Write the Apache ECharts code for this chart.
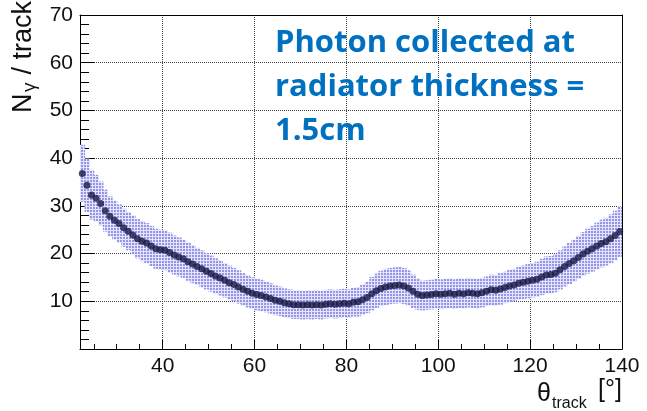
<!DOCTYPE html>
<html>
<head>
<meta charset="utf-8">
<script src="https://cdn.jsdelivr.net/npm/echarts@6/dist/echarts.min.js"></script>
<style>
html,body{margin:0;padding:0;background:#fff;}
#chart{width:647px;height:411px;}
</style>
</head>
<body>
<div id="chart"></div>
<script>
// theta_track bin centres (degrees)
const theta = [
  22.5, 23.5, 24.5, 25.5, 26.5, 27.5, 28.5, 29.5,
  30.5, 31.5, 32.5, 33.5, 34.5, 35.5, 36.5, 37.5, 38.5, 39.5,
  40.5, 41.5, 42.5, 43.5, 44.5, 45.5, 46.5, 47.5, 48.5, 49.5,
  50.5, 51.5, 52.5, 53.5, 54.5, 55.5, 56.5, 57.5, 58.5, 59.5,
  60.5, 61.5, 62.5, 63.5, 64.5, 65.5, 66.5, 67.5, 68.5, 69.5,
  70.5, 71.5, 72.5, 73.5, 74.5, 75.5, 76.5, 77.5, 78.5, 79.5,
  80.5, 81.5, 82.5, 83.5, 84.5, 85.5, 86.5, 87.5, 88.5, 89.5,
  90.5, 91.5, 92.5, 93.5, 94.5, 95.5, 96.5, 97.5, 98.5, 99.5,
  100.5, 101.5, 102.5, 103.5, 104.5, 105.5, 106.5, 107.5, 108.5, 109.5,
  110.5, 111.5, 112.5, 113.5, 114.5, 115.5, 116.5, 117.5, 118.5, 119.5,
  120.5, 121.5, 122.5, 123.5, 124.5, 125.5, 126.5, 127.5, 128.5, 129.5,
  130.5, 131.5, 132.5, 133.5, 134.5, 135.5, 136.5, 137.5, 138.5, 139.5
];
// N_gamma per track
const nGamma = [
  36.8, 34.3, 32.3, 31.6, 30.5, 29.0, 27.8, 27.0,
  26.3, 25.4, 24.7, 23.9, 23.1, 22.6, 22.2, 21.6, 21.0, 20.8,
  20.7, 20.2, 19.7, 19.3, 18.9, 18.3, 17.8, 17.3, 16.8, 16.3,
  15.8, 15.3, 14.9, 14.4, 13.9, 13.5, 13.0, 12.5, 12.1, 11.7,
  11.4, 11.2, 10.9, 10.6, 10.2, 10.0, 9.7, 9.5, 9.3, 9.3,
  9.2, 9.3, 9.2, 9.3, 9.2, 9.4, 9.5, 9.4, 9.5, 9.6,
  9.5, 9.8, 9.9, 10.3, 10.8, 11.6, 12.2, 12.7, 13.0, 13.2,
  13.3, 13.4, 13.2, 12.8, 12.1, 11.5, 11.2, 11.3, 11.4, 11.6,
  11.5, 11.6, 11.7, 11.5, 11.7, 11.6, 11.8, 11.7, 11.6, 11.8,
  12.1, 12.4, 12.3, 12.6, 12.9, 13.2, 13.4, 13.8, 14.0, 14.2,
  14.4, 14.6, 15.1, 15.5, 15.6, 15.9, 16.6, 17.3, 17.9, 18.5,
  19.2, 19.9, 20.5, 21.0, 21.6, 22.1, 22.5, 23.1, 23.8, 24.6
];
// half-width of the uncertainty band
const nGammaErr = [
  6.0, 5.6, 5.2, 4.9, 4.6, 4.4, 4.2, 4.1,
  4.0, 4.0, 4.0, 4.1, 4.1, 4.2, 4.2, 4.2, 4.2, 4.2,
  4.2, 4.2, 4.1, 4.1, 4.0, 4.0, 4.0, 3.9, 3.9, 3.8,
  3.8, 3.7, 3.7, 3.6, 3.6, 3.5, 3.5, 3.4, 3.4, 3.3,
  3.3, 3.3, 3.2, 3.2, 3.1, 3.1, 3.0, 3.0, 3.0, 3.0,
  3.0, 3.0, 3.0, 3.0, 3.0, 3.0, 3.0, 3.0, 3.0, 3.0,
  3.0, 3.0, 3.1, 3.2, 3.3, 3.5, 3.6, 3.7, 3.8, 3.8,
  3.8, 3.8, 3.8, 3.7, 3.5, 3.3, 3.1, 3.1, 3.1, 3.1,
  3.1, 3.1, 3.1, 3.1, 3.1, 3.1, 3.1, 3.1, 3.1, 3.1,
  3.1, 3.2, 3.2, 3.3, 3.3, 3.4, 3.4, 3.5, 3.5, 3.6,
  3.6, 3.7, 3.8, 3.9, 3.9, 4.0, 4.1, 4.2, 4.3, 4.4,
  4.5, 4.6, 4.7, 4.8, 4.9, 5.0, 5.0, 5.1, 5.2, 5.3
];
const binWidth = 1;
const yTickLabels = ['10', '20', '30', '40', '50', '60', '70'];
const xTickLabels = ['40', '60', '80', '100', '120', '140'];
const annotation = ['Photon collected at', 'radiator thickness =', '1.5cm'];

// dotted fill pattern for the band
const pat = document.createElement('canvas');
pat.width = 3; pat.height = 3;
const pctx = pat.getContext('2d');
pctx.fillStyle = 'rgba(228,228,250,1)';
pctx.fillRect(0, 0, 3, 3);
pctx.fillStyle = '#9494ea';
pctx.fillRect(0, 0, 2, 2);

const bandData = theta.map((t, i) => [t, nGamma[i] - nGammaErr[i], nGamma[i] + nGammaErr[i]]);
const pts = theta.map((t, i) => [t, nGamma[i]]);

const FONT = 'Liberation Sans, Arial, Helvetica, sans-serif';
const AX = '#000';
const frameAxis = {
  type: 'value', axisLine: {show: true, onZero: false, lineStyle: {color: AX, width: 1}},
  axisTick: {show: false}, axisLabel: {show: false}, splitLine: {show: false}
};
const chart = echarts.init(document.getElementById('chart'), null, {renderer: 'canvas'});
chart.setOption({
  animation: false,
  backgroundColor: '#fff',
  grid: {left: 80, right: 25, top: 15, bottom: 62},
  xAxis: [{
    type: 'value', min: 22, max: 140,
    axisLine: {show: true, onZero: false, lineStyle: {color: AX, width: 1}},
    axisTick: {show: true, inside: true, length: 9, lineStyle: {color: AX, width: 1}},
    minorTick: {show: true, splitNumber: 4, length: 5, lineStyle: {color: AX, width: 1}},
    splitLine: {show: true, lineStyle: {color: '#444', type: 'dotted', width: 1}},
    axisLabel: {showMinLabel: false, color: '#111', fontFamily: FONT, fontSize: 21, margin: 7,
      formatter: v => xTickLabels.indexOf(String(v)) >= 0 ? String(v) : ''}
  }, Object.assign({}, frameAxis, {position: 'top', min: 22, max: 140})],
  yAxis: [{
    type: 'value', min: 0, max: 70, interval: 10,
    axisLine: {show: true, onZero: false, lineStyle: {color: AX, width: 1}},
    axisTick: {show: true, inside: true, length: 15, lineStyle: {color: AX, width: 1}},
    minorTick: {show: true, splitNumber: 5, length: 9, lineStyle: {color: AX, width: 1}},
    splitLine: {show: true, lineStyle: {color: '#444', type: 'dotted', width: 1}},
    axisLabel: {showMinLabel: false, color: '#111', fontFamily: FONT, fontSize: 21, margin: 7,
      formatter: v => yTickLabels.indexOf(String(v)) >= 0 ? String(v) : ''}
  }, Object.assign({}, frameAxis, {position: 'right', min: 0, max: 70})],
  series: [
    {
      type: 'custom', data: bandData, encode: {x: 0, y: [1, 2]}, z: 2, silent: true,
      renderItem: function (params, api) {
        const t = api.value(0);
        const p1 = api.coord([t - binWidth / 2, api.value(2)]);
        const p2 = api.coord([t + binWidth / 2, api.value(1)]);
        const shape = echarts.graphic.clipRectByRect({
          x: p1[0], y: p1[1], width: p2[0] - p1[0] + 0.5, height: p2[1] - p1[1]
        }, params.coordSys);
        return shape && {type: 'rect', shape: shape, style: {fill: {image: pat, repeat: 'repeat'}}};
      }
    },
    {type: 'scatter', data: pts, symbol: 'circle', symbolSize: 7, itemStyle: {color: '#1a1a46'}, z: 5}
  ],
  graphic: [
    {type: 'group', x: 24, y: 113, rotation: Math.PI / 2, children: [
      {type: 'text', x: 0, y: 0, style: {text: 'N', font: '27px ' + FONT, fill: '#111', align: 'left', verticalAlign: 'middle'}},
      {type: 'text', x: 21, y: 6, style: {text: 'γ', font: '19px ' + FONT, fill: '#111', align: 'left', verticalAlign: 'middle'}},
      {type: 'text', x: 112, y: 0, style: {text: '/ track', font: '27px ' + FONT, fill: '#111', align: 'right', verticalAlign: 'middle'}}
    ]},
    {type: 'text', x: 537, y: 394, style: {text: 'θ', font: '25px ' + FONT, fill: '#111', align: 'left', verticalAlign: 'middle'}},
    {type: 'text', x: 552, y: 404, style: {text: 'track', font: '16px ' + FONT, fill: '#111', align: 'left', verticalAlign: 'middle'}},
    {type: 'text', x: 622, y: 390, style: {text: '[°]', font: '25px ' + FONT, fill: '#111', align: 'right', verticalAlign: 'middle'}},
    {type: 'text', x: 275, y: 43, z: 10, style: {text: annotation[0], font: 'bold 31px "Open Sans", sans-serif', fill: '#0070C0', align: 'left', verticalAlign: 'middle'}},
    {type: 'text', x: 275, y: 87.5, z: 10, style: {text: annotation[1], font: 'bold 31px "Open Sans", sans-serif', fill: '#0070C0', align: 'left', verticalAlign: 'middle'}},
    {type: 'text', x: 275, y: 131.5, z: 10, style: {text: annotation[2], font: 'bold 31px "Open Sans", sans-serif', fill: '#0070C0', align: 'left', verticalAlign: 'middle'}}
  ]
});
</script>
</body>
</html>
